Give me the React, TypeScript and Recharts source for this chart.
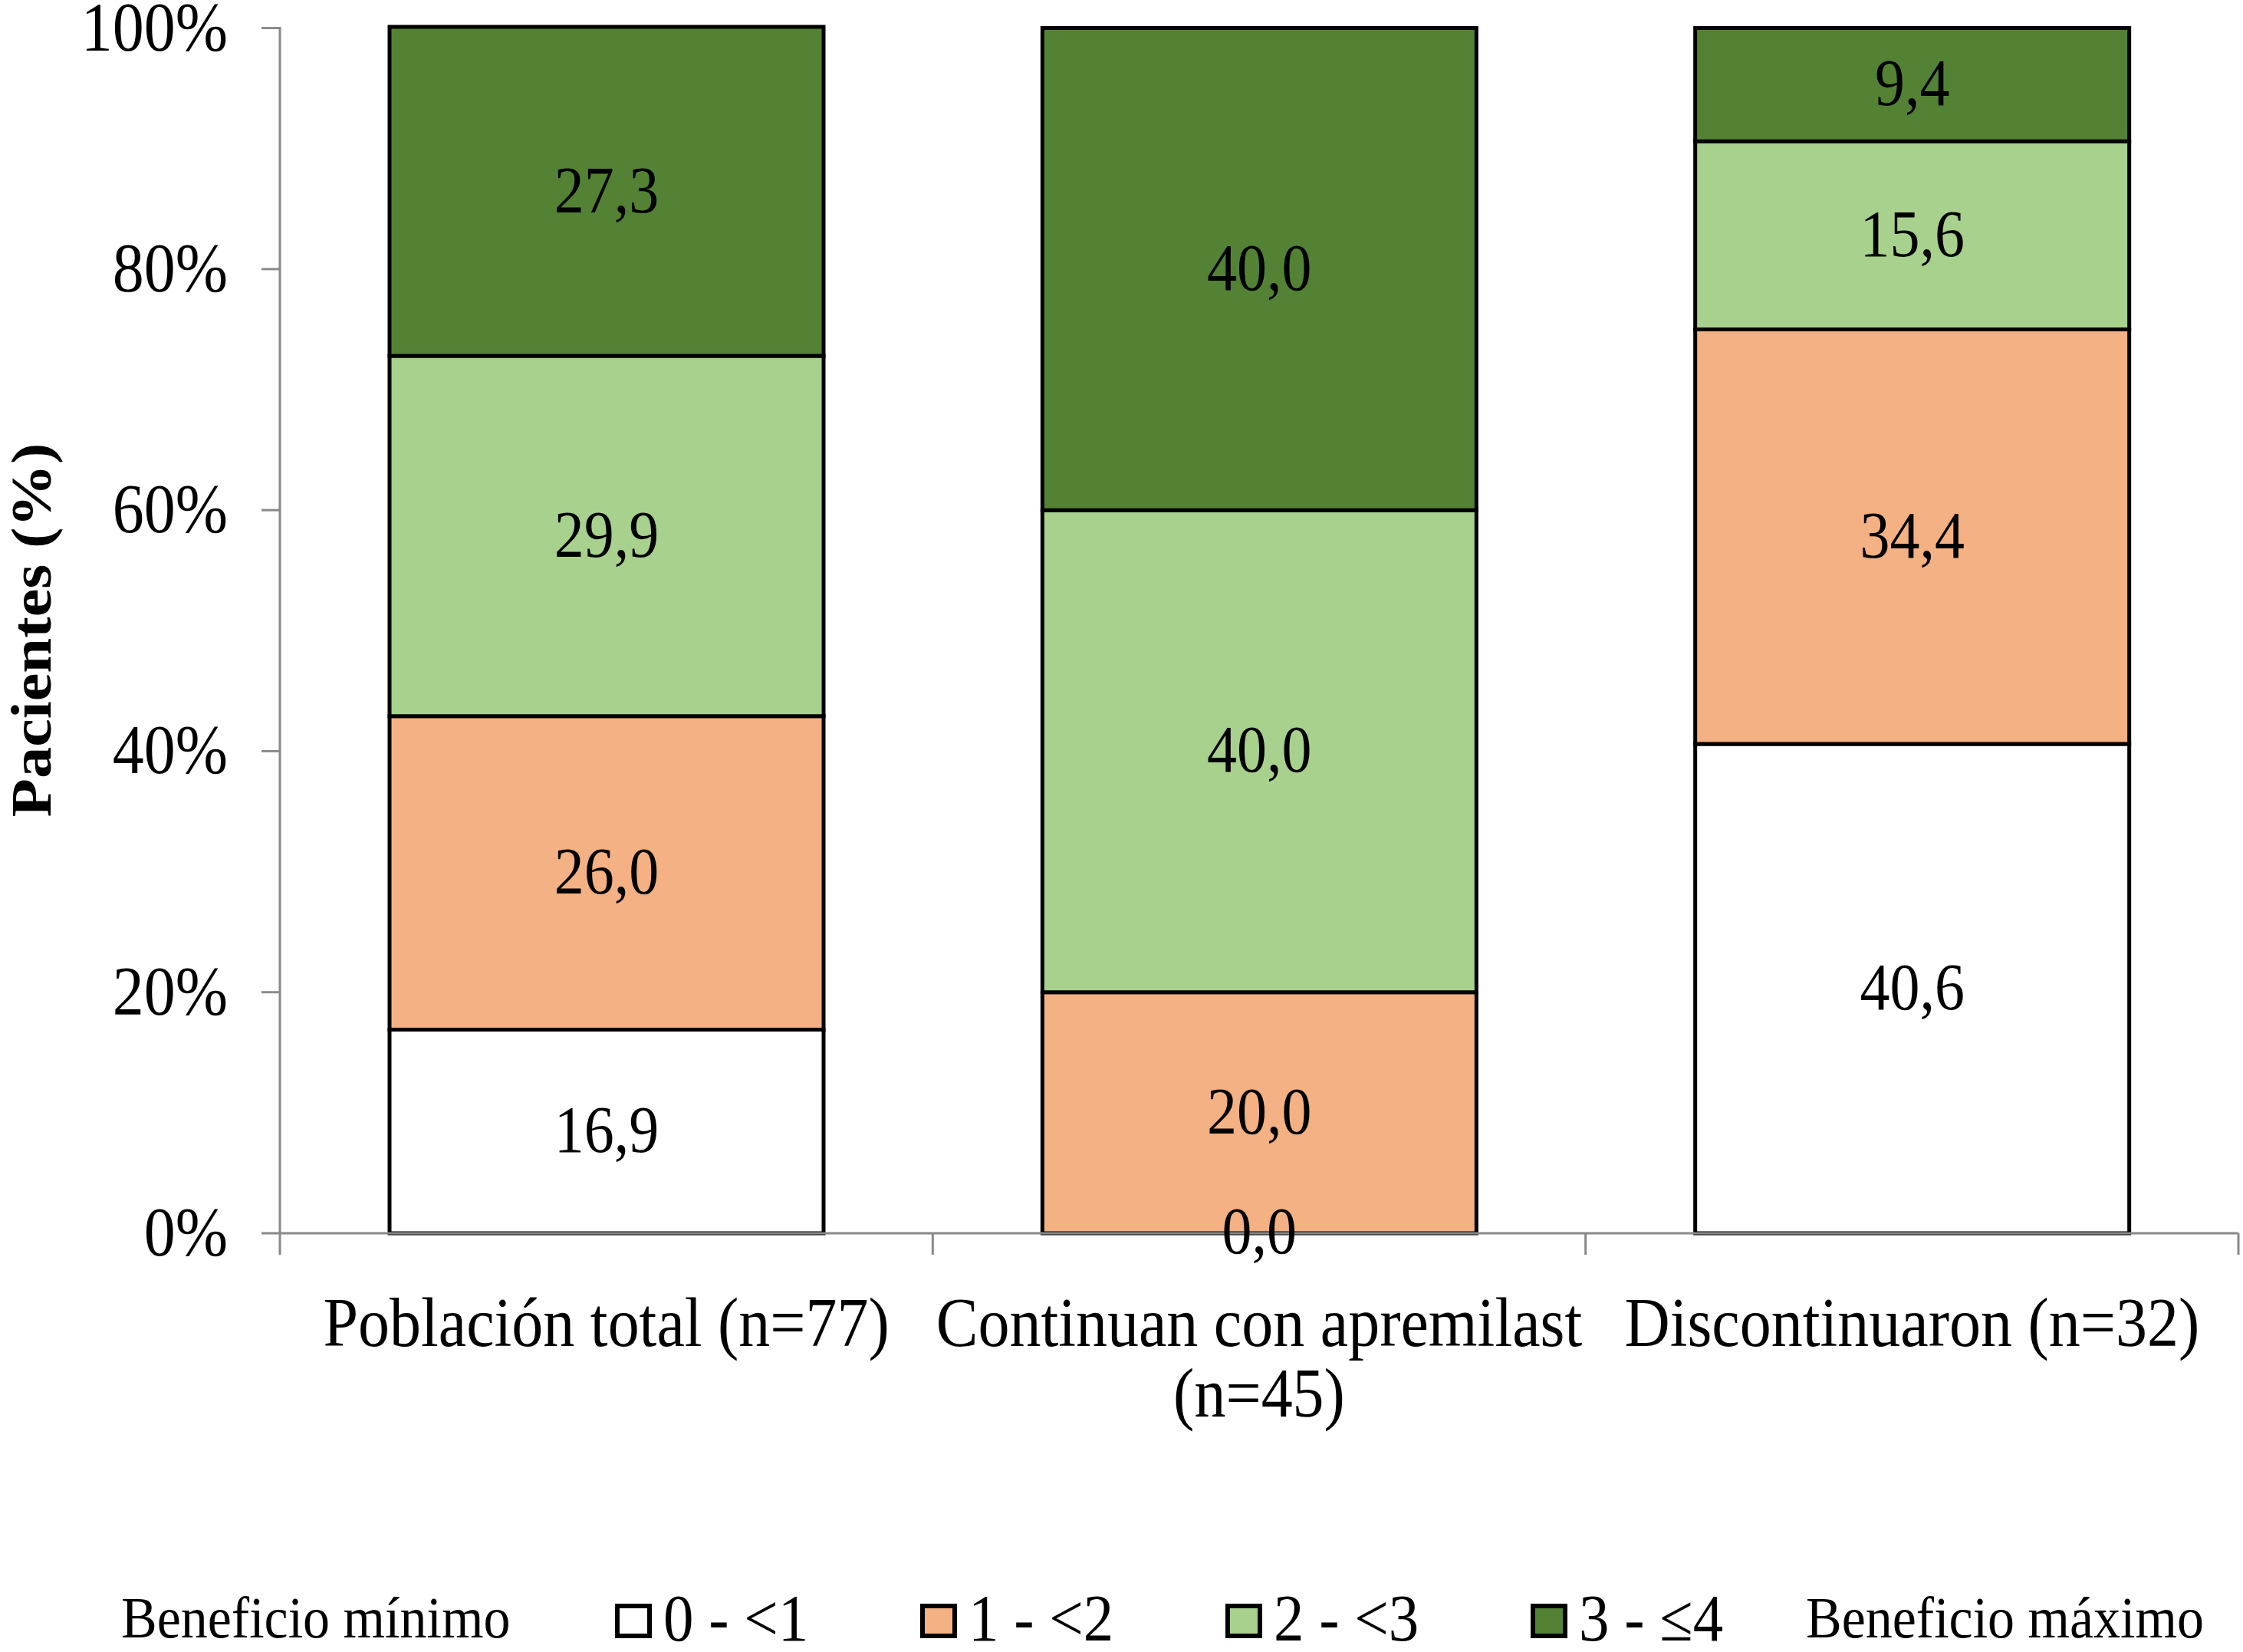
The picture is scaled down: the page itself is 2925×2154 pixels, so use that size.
import { Bar, BarChart, LabelList, XAxis, YAxis } from "recharts";

const categories = [
  "Población total (n=77)",
  "Continuan con apremilast\n(n=45)",
  "Discontinuaron (n=32)",
];
const benefit0to1 = [16.9, 0.0, 40.6];
const benefit1to2 = [26.0, 20.0, 34.4];
const benefit2to3 = [29.9, 40.0, 15.6];
const benefit3to4 = [27.3, 40.0, 9.4];
const yTicks = [0, 20, 40, 60, 80, 100];

const series = [
  { key: "b0", name: "0 - <1", values: benefit0to1, color: "#FFFFFF" },
  { key: "b1", name: "1 - <2", values: benefit1to2, color: "#F4B183" },
  { key: "b2", name: "2 - <3", values: benefit2to3, color: "#A9D18E" },
  { key: "b3", name: "3 - ≤4", values: benefit3to4, color: "#548235" },
];

const data = categories.map((name, i) => {
  const row: Record<string, string | number> = { name };
  series.forEach((s) => {
    row[s.key] = s.values[i];
  });
  return row;
});

const FONT = '"Liberation Serif", "Times New Roman", serif';
const AXIS_GRAY = "#898989";
const STRETCH = 1.1;
const W = 2925;
const H = 2154;
const MARGIN = { top: 35, right: 6, left: 0, bottom: 0 };

function formatValue(v: unknown) {
  return Number(v).toFixed(1).replace(".", ",");
}

function YTick({ x, y, payload }: any) {
  return (
    <text
      transform={`translate(${x},${y + 29}) scale(1,${STRETCH})`}
      textAnchor="end"
      fontFamily={FONT}
      fontSize={82}
      fill="#000"
    >
      {`${payload.value}%`}
    </text>
  );
}

function CategoryTick({ x, y, payload, index }: any) {
  const half = payload.offset || 425.8;
  const lines = String(payload.value).split("\n");
  return (
    <g>
      {index === 0 ? (
        <line x1={x - half} x2={x - half} y1={y} y2={y + 28} stroke={AXIS_GRAY} strokeWidth={3} />
      ) : null}
      <line x1={x + half} x2={x + half} y1={y} y2={y + 28} stroke={AXIS_GRAY} strokeWidth={3} />
      {lines.map((line, i) => (
        <text
          key={i}
          transform={`translate(${x},${y + 147 + i * 92}) scale(1,${STRETCH})`}
          textAnchor="middle"
          fontFamily={FONT}
          fontSize={82}
          fill="#000"
        >
          {line}
        </text>
      ))}
    </g>
  );
}

function SegmentLabel({ x, y, width, height, value }: any) {
  const cx = Number(x) + Number(width) / 2;
  const cy = Number(y) + Number(height) / 2;
  return (
    <text
      transform={`translate(${cx},${cy + 27}) scale(1,${STRETCH})`}
      textAnchor="middle"
      fontFamily={FONT}
      fontSize={78}
      fill="#000"
    >
      {formatValue(value)}
    </text>
  );
}

function YTitle({ viewBox }: any) {
  const cy = viewBox.y + viewBox.height / 2;
  return (
    <text
      transform={`translate(41,${cy}) rotate(-90) scale(${STRETCH},1)`}
      textAnchor="middle"
      dominantBaseline="central"
      fontFamily={FONT}
      fontSize={75}
      fontWeight="bold"
      fill="#000"
    >
      Pacientes (%)
    </text>
  );
}

const legendText = {
  position: "absolute" as const,
  top: 2060,
  fontFamily: FONT,
  lineHeight: "100px",
  whiteSpace: "nowrap" as const,
  transform: `scaleY(${STRETCH})`,
  transformOrigin: "left center",
};

export default function App() {
  return (
    <div style={{ position: "absolute", left: 0, top: 0, width: W, height: H, background: "#fff" }}>
      <BarChart width={W} height={H} data={data} margin={MARGIN} barSize={566}>
        <XAxis
          dataKey="name"
          height={546}
          interval={0}
          tickSize={0}
          tickMargin={0}
          tickLine={false}
          axisLine={{ stroke: AXIS_GRAY, strokeWidth: 3 }}
          tick={<CategoryTick />}
        />
        <YAxis
          width={365}
          domain={[0, 100]}
          ticks={yTicks}
          interval={0}
          tickSize={24}
          tickMargin={44}
          axisLine={{ stroke: AXIS_GRAY, strokeWidth: 3 }}
          tickLine={{ stroke: AXIS_GRAY, strokeWidth: 3 }}
          tick={<YTick />}
          label={<YTitle />}
        />
        {series.map((s) => (
          <Bar
            key={s.key}
            dataKey={s.key}
            name={s.name}
            stackId="a"
            fill={s.color}
            stroke="#000"
            strokeWidth={5}
            isAnimationActive={false}
          />
        ))}
      </BarChart>

      {/* labels layer on top so that the 0,0 label sits above the bars */}
      <div style={{ position: "absolute", left: 0, top: 0, pointerEvents: "none" }}>
        <BarChart width={W} height={H} data={data} margin={MARGIN} barSize={566}>
          <XAxis dataKey="name" height={546} tick={false} tickLine={false} axisLine={false} />
          <YAxis width={365} domain={[0, 100]} ticks={yTicks} tick={false} tickLine={false} axisLine={false} />
          {series.map((s) => (
            <Bar
              key={s.key}
              dataKey={s.key}
              stackId="a"
              fill="none"
              stroke="none"
              minPointSize={2}
              isAnimationActive={false}
            >
              <LabelList dataKey={s.key} content={<SegmentLabel />} />
            </Bar>
          ))}
        </BarChart>
      </div>

      <div style={{ ...legendText, left: 158, fontSize: 70 }}>Beneficio mínimo</div>
      {series.map((s, i) => (
        <div key={s.key}>
          <div
            style={{
              position: "absolute",
              left: 802 + i * 398,
              top: 2091,
              width: 36,
              height: 33,
              background: s.color,
              border: "6px solid #000",
            }}
          />
          <div style={{ ...legendText, left: 865 + i * 398, fontSize: 79 }}>{s.name}</div>
        </div>
      ))}
      <div style={{ ...legendText, left: 2355, fontSize: 70 }}>Beneficio máximo</div>
    </div>
  );
}
